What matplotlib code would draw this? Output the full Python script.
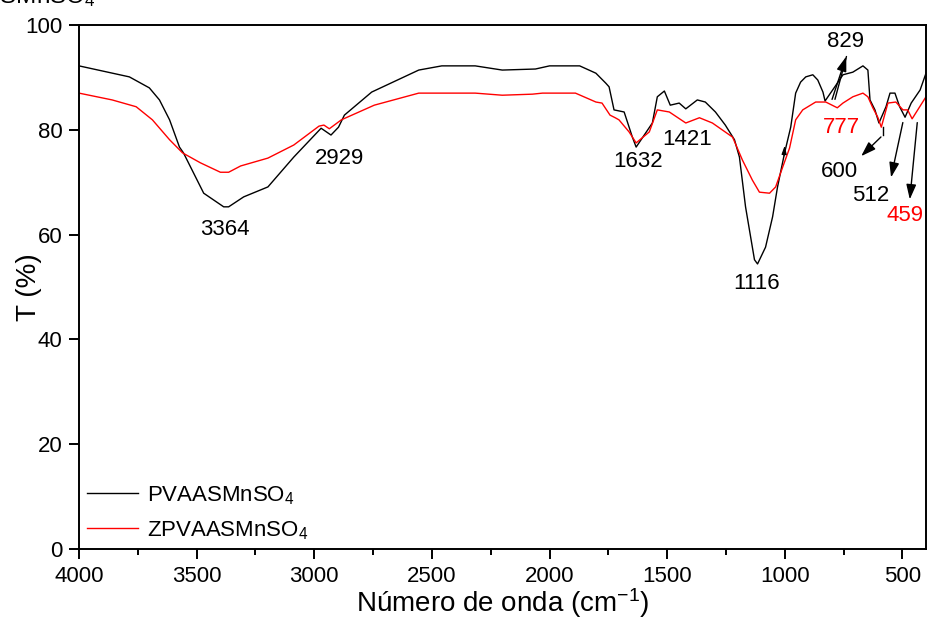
import numpy as np
import matplotlib
matplotlib.use("Agg")
import matplotlib.pyplot as plt

plt.rcParams["font.family"] = ["Liberation Sans", "DejaVu Sans"]
plt.rcParams["mathtext.fontset"] = "custom"
plt.rcParams["mathtext.rm"] = "Liberation Sans"
plt.rcParams["mathtext.it"] = "Liberation Sans:italic"

# FTIR spectra (wavenumber in cm-1, transmittance in %)
pva_x = [4000, 3786, 3701, 3658, 3615, 3573, 3556, 3470, 3385, 3364, 3300, 3197,
         3087, 2971, 2929, 2897, 2872, 2756, 2556, 2458, 2316, 2201, 2060, 2000,
         1872, 1803, 1761, 1747, 1726, 1683, 1648, 1632, 1563, 1542, 1512, 1487,
         1449, 1421, 1372, 1338, 1295, 1253, 1214, 1193, 1167, 1129, 1116, 1082,
         1052, 1031, 1001, 975, 954, 933, 911, 881, 860, 838, 829, 783, 753, 711,
         668, 647, 638, 617, 600, 570, 553, 532, 512, 489, 463, 425, 400]
pva_t = [92.2, 90.1, 88.0, 85.7, 81.9, 76.7, 75.6, 67.9, 65.3, 65.3, 67.2, 69.1,
         74.8, 80.3, 79.0, 80.5, 82.8, 87.2, 91.4, 92.2, 92.2, 91.4, 91.6, 92.2,
         92.2, 90.8, 88.9, 88.2, 83.8, 83.4, 78.6, 76.7, 81.3, 86.3, 87.4, 84.7,
         85.1, 84.0, 85.7, 85.3, 83.4, 80.9, 78.1, 74.8, 65.3, 55.2, 54.4, 57.6,
         63.4, 69.1, 75.6, 80.5, 87.0, 89.1, 90.1, 90.5, 89.5, 87.2, 85.5, 88.5, 90.5, 91.0,
         92.2, 91.4, 85.7, 83.8, 81.3, 84.4, 87.0, 87.0, 84.4, 82.4, 85.1, 87.6, 90.8]

zpva_x = [4000, 3859, 3757, 3688, 3615, 3560, 3484, 3399, 3364, 3313, 3197, 3087,
          2980, 2959, 2936, 2885, 2745, 2556, 2316, 2201, 2073, 2030, 1890, 1803,
          1777, 1743, 1721, 1705, 1662, 1632, 1576, 1542, 1491, 1421, 1363, 1308,
          1222, 1180, 1138, 1108, 1065, 1039, 1009, 980, 954, 924, 869, 826, 777,
          753, 711, 668, 647, 626, 605, 590, 562, 528, 498, 478, 459, 400]
zpva_t = [87.0, 85.7, 84.4, 81.9, 78.1, 75.6, 73.7, 71.9, 71.9, 73.1, 74.6, 77.1,
          80.7, 80.9, 80.2, 81.9, 84.7, 87.0, 87.0, 86.6, 86.8, 87.0, 87.0, 85.3,
          85.1, 82.8, 82.3, 81.9, 79.6, 77.5, 79.6, 83.8, 83.4, 81.3, 82.3, 81.3,
          78.6, 74.2, 70.4, 68.1, 67.9, 69.1, 72.9, 76.5, 81.9, 83.8, 85.3, 85.3, 84.2,
          85.1, 86.3, 87.0, 86.3, 84.2, 82.4, 80.5, 85.1, 85.3, 83.8, 83.8, 82.1, 86.3]

# band labels: text, position, colour
band_labels = ["3364", "2929", "1632", "1421", "1116", "829", "777", "600", "512", "459"]
label_xy = [(3382, 61.0), (2894, 74.6), (1622, 73.9), (1417, 78.2), (1119, 50.6),
            (741, 96.9), (761, 80.5), (767, 72.0), (635, 67.4), (488, 63.7)]
label_colors = ["black", "black", "black", "black", "black",
                "black", "red", "black", "black", "red"]

fig = plt.figure(figsize=(9.29, 6.23), dpi=100)
ax = fig.add_axes([79 / 929, 1 - 549 / 623, (926 - 79) / 929, (549 - 25) / 623])

ax.plot(pva_x, pva_t, color="black", lw=1.0, label="PVAASMnSO$_4$")
ax.plot(zpva_x, zpva_t, color="red", lw=1.0, label="ZPVAASMnSO$_4$")

ax.set_xlim(4000, 400)
ax.set_ylim(0, 100)
ax.set_xticks(np.arange(4000, 400, -500))
ax.set_xticks(np.arange(3750, 400, -500), minor=True)
ax.set_yticks(np.arange(0, 101, 20))

for s in ax.spines.values():
    s.set_linewidth(1.4)
ax.tick_params(which="major", direction="out", length=7, width=1.4,
               labelsize=16, pad=5)
ax.tick_params(which="minor", direction="out", length=4.5, width=1.4)

ax.set_xlabel("Número de onda (cm$^{-1}$)", fontsize=20, labelpad=0)
ax.set_ylabel("T (%)", fontsize=20)
ax.yaxis.set_label_coords(-0.044, 0.5)

for txt, (lx, ly), c in zip(band_labels, label_xy, label_colors):
    ax.text(lx, ly, txt, color=c, fontsize=16, ha="center", va="center")

# arrows pointing at the low-frequency bands
arrow_kw = dict(arrowstyle="-|>,head_length=0.9,head_width=0.3", color="black", lw=1.0)
ax.annotate("", xy=(735, 94.5), xytext=(803, 85.3), arrowprops=arrow_kw)
ax.annotate("", xy=(735, 94.5), xytext=(790, 85.3),
            arrowprops=dict(arrowstyle="-", color="black", lw=1.0))
ax.plot([583, 583], [80.5, 79.0], color="black", lw=1.0)
ax.annotate("", xy=(684, 74.6), xytext=(583, 79.0), arrowprops=arrow_kw)
ax.annotate("", xy=(551, 70.4), xytext=(496, 81.9), arrowprops=arrow_kw)
ax.annotate("", xy=(470, 66.2), xytext=(436, 81.9), arrowprops=arrow_kw)
ax.annotate("", xy=(1000, 77.5), xytext=(1004, 74.5),
            arrowprops=dict(arrowstyle="-|>,head_length=0.5,head_width=0.15",
                            color="black", lw=0.8))

ax.legend(loc="lower left", bbox_to_anchor=(-0.014, -0.024), frameon=False,
          fontsize=16, handlelength=2.3, handletextpad=0.4, labelspacing=0.55)

# sample name heading, mostly outside the top of the canvas
fig.text(96 / 929, 1 - 3 / 623, "PVAASMnSO$_4$", fontsize=17.5, ha="right", va="baseline")

fig.savefig("out.png", dpi=100)
